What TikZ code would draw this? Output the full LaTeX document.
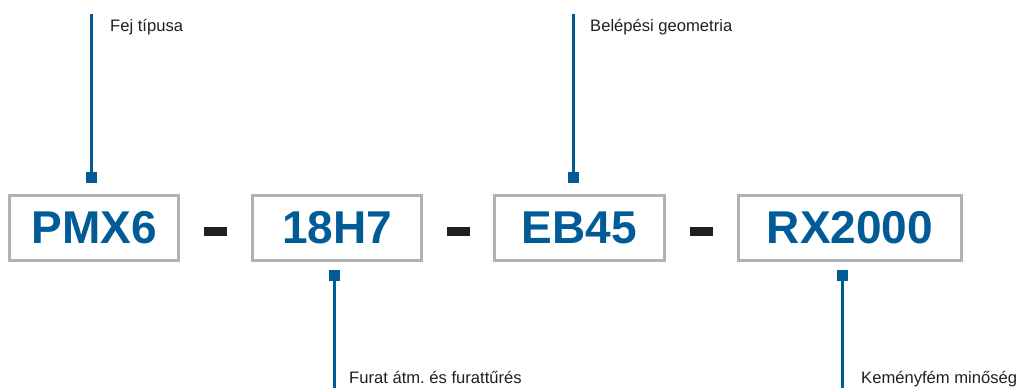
\documentclass[tikz,border=0pt]{standalone}
\usepackage{fontspec}
\setmainfont{Liberation Sans}
\usepackage{xcolor}
\definecolor{codeblue}{RGB}{0,91,151}
\definecolor{boxgray}{RGB}{178,178,182}
\definecolor{inkblack}{RGB}{35,31,32}
\frenchspacing
\tikzset{
  codebox/.style={draw=boxgray, line width=3pt, minimum width=169pt, minimum height=65pt, inner sep=0pt, text=codeblue, font=\fontsize{46}{46}\selectfont\bfseries},
  dashbar/.style={fill=inkblack, minimum width=23pt, minimum height=9pt, inner sep=0pt},
  marker/.style={fill=codeblue, minimum size=11pt, inner sep=0pt},
  leader/.style={codeblue, line width=3pt},
  caption/.style={anchor=base west, inner sep=0pt, text=inkblack, font=\fontsize{16.6}{16.6}\selectfont}
}

\begin{document}
\begin{tikzpicture}[x=1pt, y=-1pt]
    \useasboundingbox (0,0) rectangle (1027,388);

    % Code parts in grey boxes
    \node (pmx) at (94,228) [codebox] {PMX6};
    \node (hole) at (337,228) [codebox] {18H7};
    \node (entry) at (579.5,228) [codebox, minimum width=170pt] {EB45};
    \node (grade) at (850,228) [codebox, minimum width=223pt] {RX2000};

    % Dashes between the parts
    \node (d1) at (215.5,231.5) [dashbar] {};
    \node (d2) at (458.5,231.5) [dashbar] {};
    \node (d3) at (701.5,231.5) [dashbar] {};

    % Leaders going up
    \node (m1) at (91.5,177.5) [marker] {};
    \coordinate (t1) at (91.5,14);
    \draw[leader] (m1.center) -- (t1);
    \node (c1) at (110,31) [caption] {Fej típusa};

    \node (m3) at (573.5,177.5) [marker] {};
    \coordinate (t3) at (573.5,14);
    \draw[leader] (m3.center) -- (t3);
    \node (c3) at (590,31) [caption] {Belépési geometria};

    % Leaders going down
    \node (m2) at (334.5,275.5) [marker] {};
    \coordinate (t2) at (334.5,388);
    \draw[leader] (m2.center) -- (t2);
    \node (c2) at (349,383) [caption] {Furat átm. és furattűrés};

    \node (m4) at (842.5,275.5) [marker] {};
    \coordinate (t4) at (842.5,388);
    \draw[leader] (m4.center) -- (t4);
    \node (c4) at (861,383) [caption] {Keményfém minőség};
\end{tikzpicture}
\end{document}
